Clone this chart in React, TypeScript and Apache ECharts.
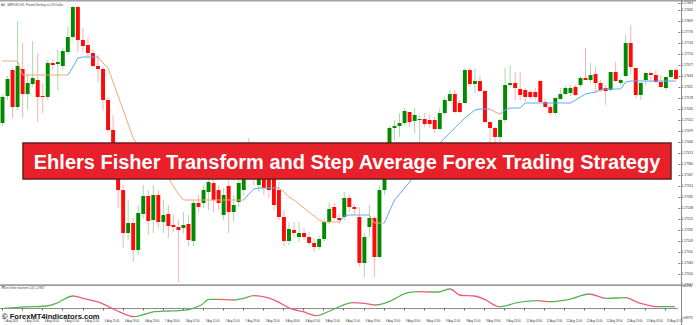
import { useEffect, useRef } from "react";
import * as echarts from "echarts";

// x-axis tick labels (one every 4 hourly candles)
const TICK_LABELS = [
  "5 Aug 2024", "5 Aug 23:00", "6 Aug 03:00", "6 Aug 07:00", "6 Aug 11:00", "6 Aug 15:00",
  "6 Aug 19:00", "6 Aug 23:00", "7 Aug 03:00", "7 Aug 07:00", "7 Aug 11:00", "7 Aug 15:00",
  "7 Aug 19:00", "7 Aug 23:00", "8 Aug 03:00", "8 Aug 07:00", "8 Aug 11:00", "8 Aug 15:00",
  "8 Aug 19:00", "8 Aug 23:00", "9 Aug 03:00", "9 Aug 07:00", "9 Aug 11:00", "9 Aug 15:00",
  "9 Aug 19:00", "9 Aug 23:00", "12 Aug 03:00", "12 Aug 07:00", "12 Aug 11:00", "12 Aug 15:00",
  "12 Aug 19:00", "12 Aug 23:00", "13 Aug 03:00", "13 Aug 07:00",
];

// [open, close, low, high]
const CANDLES: number[][] = [
  [1.27503, 1.27581, 1.27494, 1.27587], [1.27584, 1.27635, 1.27572, 1.27644], [1.27662, 1.27551, 1.27518, 1.27668],
  [1.27551, 1.27674, 1.27542, 1.27809], [1.27665, 1.2759, 1.27518, 1.27743], [1.2759, 1.27623, 1.27542, 1.2765],
  [1.2762, 1.27638, 1.27611, 1.27749], [1.27632, 1.27581, 1.27506, 1.27713], [1.27584, 1.27581, 1.27533, 1.27623],
  [1.27581, 1.27683, 1.27572, 1.27692], [1.27683, 1.27677, 1.27662, 1.27695], [1.2768, 1.27686, 1.27602, 1.27722],
  [1.27674, 1.27719, 1.27662, 1.27728], [1.27716, 1.27761, 1.27707, 1.27791], [1.27761, 1.27851, 1.27758, 1.27854],
  [1.27851, 1.27752, 1.27716, 1.27854], [1.27752, 1.27734, 1.27716, 1.27788], [1.27737, 1.27713, 1.27701, 1.27758],
  [1.27713, 1.27674, 1.27671, 1.27722], [1.27674, 1.27665, 1.27626, 1.27707], [1.27665, 1.27572, 1.27542, 1.27671],
  [1.27572, 1.27482, 1.27476, 1.27581], [1.27482, 1.27377, 1.27362, 1.27527], [1.27377, 1.27302, 1.27248, 1.27392],
  [1.27302, 1.27173, 1.27128, 1.27317], [1.27173, 1.27203, 1.27152, 1.27272], [1.27203, 1.27122, 1.27086, 1.27218],
  [1.27122, 1.27233, 1.27107, 1.27257], [1.2723, 1.27284, 1.27218, 1.27317], [1.27284, 1.27209, 1.27167, 1.27302],
  [1.27212, 1.27287, 1.27173, 1.27317], [1.27287, 1.27206, 1.27188, 1.27302], [1.27206, 1.27227, 1.27173, 1.27272],
  [1.2723, 1.27194, 1.27158, 1.27257], [1.27197, 1.27191, 1.27176, 1.27227], [1.27191, 1.27182, 1.27026, 1.27212],
  [1.27188, 1.27197, 1.27173, 1.27236], [1.272, 1.27152, 1.27134, 1.27227], [1.27149, 1.27263, 1.27134, 1.27272],
  [1.27263, 1.27251, 1.27236, 1.27287], [1.27263, 1.27302, 1.27248, 1.27317], [1.27296, 1.27326, 1.27242, 1.27347],
  [1.27323, 1.27272, 1.27236, 1.27338], [1.27302, 1.27263, 1.27242, 1.27317], [1.27227, 1.27287, 1.27212, 1.27308],
  [1.27314, 1.27236, 1.27173, 1.27332], [1.27236, 1.27257, 1.27206, 1.27287], [1.27266, 1.27323, 1.27251, 1.27347],
  [1.27302, 1.27356, 1.27287, 1.27422], [1.27347, 1.27392, 1.27332, 1.27458], [1.27392, 1.27347, 1.27317, 1.27422],
  [1.27317, 1.27362, 1.27296, 1.27392], [1.27362, 1.27308, 1.27287, 1.27386], [1.27356, 1.27302, 1.27278, 1.27392],
  [1.27338, 1.27257, 1.27242, 1.27362], [1.27302, 1.27221, 1.27212, 1.27326], [1.27221, 1.27149, 1.27134, 1.27242],
  [1.27149, 1.27185, 1.27137, 1.27206], [1.27182, 1.27173, 1.27158, 1.27206], [1.27161, 1.27173, 1.27146, 1.27206],
  [1.27173, 1.27161, 1.27152, 1.27188], [1.27161, 1.27143, 1.27134, 1.27176], [1.27143, 1.27131, 1.27116, 1.27158],
  [1.27131, 1.27155, 1.27122, 1.27164], [1.27155, 1.27206, 1.27146, 1.27218], [1.27206, 1.27245, 1.272, 1.27263],
  [1.27251, 1.27218, 1.27212, 1.27263], [1.27218, 1.27212, 1.272, 1.2723], [1.27221, 1.27278, 1.27212, 1.27296],
  [1.27278, 1.27251, 1.27236, 1.27287], [1.27251, 1.27245, 1.27227, 1.2726], [1.27221, 1.27083, 1.27071, 1.27251],
  [1.27083, 1.27161, 1.27041, 1.27173], [1.27191, 1.27218, 1.27161, 1.27257], [1.27218, 1.27101, 1.27041, 1.27224],
  [1.27101, 1.27302, 1.27098, 1.27317], [1.27302, 1.27377, 1.27287, 1.27392], [1.27377, 1.27488, 1.27368, 1.27494],
  [1.27488, 1.27494, 1.27452, 1.27512], [1.27494, 1.27503, 1.27461, 1.27533], [1.27503, 1.27539, 1.27497, 1.27548],
  [1.27536, 1.27506, 1.27491, 1.27536], [1.27509, 1.27527, 1.27473, 1.27548], [1.27512, 1.27515, 1.27443, 1.27527],
  [1.27515, 1.275, 1.27491, 1.27533], [1.27512, 1.275, 1.27488, 1.27527], [1.27512, 1.27485, 1.27473, 1.27521],
  [1.27485, 1.27533, 1.27482, 1.27548], [1.27533, 1.27572, 1.27527, 1.27581], [1.27569, 1.2759, 1.27566, 1.27602],
  [1.2759, 1.27536, 1.27533, 1.27602], [1.27563, 1.27536, 1.27533, 1.27572], [1.27563, 1.27662, 1.27563, 1.27668],
  [1.27662, 1.2762, 1.27611, 1.27668], [1.2762, 1.27629, 1.27593, 1.27668], [1.27629, 1.27599, 1.27596, 1.27647],
  [1.27599, 1.27506, 1.27503, 1.27602], [1.27506, 1.27488, 1.27443, 1.27506], [1.27488, 1.27461, 1.27443, 1.27491],
  [1.27461, 1.27512, 1.27443, 1.27518], [1.27512, 1.27617, 1.27503, 1.27668], [1.27617, 1.27623, 1.27611, 1.27677],
  [1.27623, 1.27608, 1.27572, 1.27656], [1.27605, 1.27587, 1.27572, 1.27656], [1.27602, 1.27581, 1.27566, 1.27608],
  [1.27596, 1.27581, 1.27575, 1.27602], [1.27596, 1.27581, 1.27572, 1.27608], [1.27629, 1.27566, 1.27566, 1.27632],
  [1.27566, 1.27551, 1.27548, 1.27575], [1.27551, 1.27533, 1.27527, 1.27557], [1.27533, 1.27578, 1.27527, 1.27581],
  [1.27575, 1.2759, 1.27572, 1.27608], [1.2759, 1.27608, 1.27587, 1.27614], [1.27593, 1.27608, 1.27584, 1.27617],
  [1.27611, 1.27587, 1.27584, 1.27617], [1.27617, 1.27638, 1.27611, 1.27644], [1.27638, 1.27632, 1.27632, 1.27728],
  [1.27632, 1.27647, 1.27623, 1.27683], [1.2765, 1.27623, 1.27593, 1.27671], [1.27623, 1.27602, 1.27596, 1.27632],
  [1.27608, 1.27599, 1.27557, 1.27617], [1.27602, 1.27656, 1.27599, 1.27656], [1.27656, 1.27629, 1.27626, 1.27686],
  [1.27623, 1.27632, 1.27617, 1.27638], [1.27644, 1.27743, 1.27641, 1.27767], [1.27743, 1.27671, 1.27647, 1.27797],
  [1.27668, 1.27587, 1.27578, 1.27668], [1.27587, 1.27623, 1.27572, 1.27626], [1.27632, 1.27653, 1.27617, 1.27656],
  [1.27653, 1.27647, 1.27623, 1.27656], [1.27647, 1.27626, 1.27626, 1.27662], [1.27626, 1.27611, 1.27608, 1.27647],
  [1.27608, 1.27641, 1.27602, 1.27641], [1.27641, 1.27662, 1.27638, 1.27662], [1.27662, 1.27635, 1.27632, 1.27668],
];

// Step average line value per candle
const STEP_AVG = [
  1.27689, 1.27689, 1.27689, 1.27689,
  1.27647, 1.27647, 1.27647, 1.27647, 1.27647, 1.27647, 1.27647, 1.27647, 1.27647, 1.27647,
  1.27671, 1.27698, 1.27701, 1.27701, 1.27701, 1.27701,
  1.27683, 1.27668, 1.27626, 1.27584, 1.27542, 1.275, 1.27458, 1.27434, 1.27416, 1.27398,
  1.27383, 1.27371, 1.27362, 1.27338, 1.27314, 1.2729,
  1.27272, 1.27272, 1.27272, 1.27272, 1.27272, 1.27272, 1.27272, 1.27272, 1.27272, 1.27272,
  1.27272, 1.27272, 1.27272,
  1.2729, 1.27305, 1.27308, 1.27308, 1.27308, 1.27308, 1.27308,
  1.27296, 1.27281, 1.27272, 1.2726, 1.27248, 1.27236, 1.27224, 1.27212,
  1.27206, 1.27206, 1.27206, 1.27206,
  1.27224, 1.27227, 1.27227, 1.27227, 1.27227, 1.27227,
  1.27203, 1.27203, 1.27203,
  1.27239, 1.27272, 1.2729, 1.27308, 1.27326, 1.27347, 1.27368, 1.27389, 1.2741, 1.27428,
  1.27443, 1.27458, 1.27473, 1.27488, 1.27503, 1.27518, 1.2753, 1.27542,
  1.27545, 1.27545, 1.27545,
  1.27536, 1.2753, 1.27542,
  1.27548, 1.27548, 1.27548,
  1.27563, 1.27563, 1.27563, 1.27563, 1.27563, 1.27563, 1.27563, 1.27563, 1.27563, 1.27563,
  1.27572, 1.27581, 1.2759, 1.27593, 1.27596, 1.27602,
  1.27605, 1.27605, 1.27605, 1.27605,
  1.27626,
  1.27629, 1.27629, 1.27629, 1.27629, 1.27629, 1.27629, 1.27629, 1.27629, 1.27629, 1.27629,
];

// colour runs of the step average: o = falling (orange), b = rising (blue)
const STEP_RUNS: [number, string][] = [
  [14, "o"], [6, "b"], [29, "o"], [7, "b"], [12, "o"], [6, "b"], [3, "o"], [21, "b"], [2, "o"], [35, "b"],
];

// Ehlers Fisher transform: [candle position, value]
const FISHER: number[][] = [
  [0.3, 0.01], [2.85, 0.082], [5.6, 0.125], [8.75, 0.175], [10.7, 0.369], [14.06, 0.894], [16.0, 0.729],
  [19.4, 0.412], [22.5, -0.113], [26.3, -0.594], [28.4, -0.4], [30.4, -0.235], [33.1, -0.185], [35.1, -0.163],
  [37.3, -0.062], [39.6, 0.247], [41.2, 0.657], [43.0, 0.657], [46.1, 0.606], [48.1, 0.729], [50.0, 0.916],
  [52.8, 0.772], [54.8, 0.484], [57.3, 0.01], [59.9, -0.235], [62.6, -0.522], [65.2, -0.185], [67.4, 0.175],
  [69.7, 0.412], [72.1, 0.369], [74.4, 0.247], [77.0, 0.484], [80.3, 1.088], [82.9, 1.203], [85.4, 1.182],
  [86.8, 1.182], [89.2, 1.397], [91.1, 0.966], [94.1, 0.894], [96.1, 0.657], [99.0, 0.125], [102.6, 0.412],
  [106.5, 0.556], [109.0, 0.484], [113.0, 0.657], [116.9, 1.038], [120.3, 0.729], [124.2, 0.772],
  [126.7, 0.412], [130.7, 0.125], [134.0, 0.125],
];

const PRICE_MIN = 1.27017;
const PRICE_MAX = 1.27863;
const PRICE_STEP = 0.00033;
const FISHER_MIN = -0.68791;
const FISHER_MAX = 1.612905;
const FISHER_STEP = 2.30081;

const UP = "#008a00";
const DOWN = "#ff0a0a";
const WICK_UP = "#a9d9a9";
const WICK_DOWN = "#ffb0b0";
const ORANGE = "#f5a673";
const BLUE = "#5aa8f5";
const F_UP = "#58b14f";
const F_DOWN = "#ee5a78";
const FONT = "Liberation Sans";

export default function App() {
  const ref = useRef<HTMLDivElement>(null);

  useEffect(() => {
    if (!ref.current) return;
    const chart = echarts.init(ref.current, undefined, { renderer: "svg" });
    const N = CANDLES.length;
    const cats = CANDLES.map((_, i) => String(i));

    const col: string[] = [];
    STEP_RUNS.forEach(([n, c]) => {
      for (let k = 0; k < n; k++) col.push(c);
    });
    const pick = (c: string) =>
      STEP_AVG.map((v, i) => ((i >= 1 && col[i] === c) || (i + 1 < N && col[i + 1] === c) ? v : null));

    const pieces = FISHER.slice(0, -1).map((p, k) => {
      const q = FISHER[k + 1];
      const piece: any = { gte: p[0], color: q[1] >= p[1] ? F_UP : F_DOWN };
      if (k < FISHER.length - 2) piece.lt = q[0];
      else piece.lte = q[0];
      return piece;
    });

    const smallText = (text: string, x: number, y: number, size: number, fill = "#333") => ({
      type: "text",
      x,
      y,
      z: 50,
      silent: true,
      style: {
        text,
        fontSize: size,
        fontFamily: FONT,
        fill,
        textAlign: "left",
        align: "left",
        textVerticalAlign: "middle",
        verticalAlign: "middle",
      },
    });

    chart.setOption({
      animation: false,
      backgroundColor: "#ffffff",
      grid: [
        { left: -4, right: 15, top: 3, height: 282 },
        { left: -4, right: 15, top: 286, height: 32 },
      ],
      xAxis: [
        { type: "category", gridIndex: 0, data: cats, boundaryGap: true, show: false },
        {
          type: "category",
          gridIndex: 1,
          data: cats,
          boundaryGap: true,
          position: "bottom",
          axisLine: { show: true, lineStyle: { color: "#8c8c8c", width: 1 } },
          axisTick: { show: true, interval: 3, alignWithLabel: true, length: 2, lineStyle: { color: "#666" } },
          axisLabel: {
            interval: 3,
            formatter: (v: string) => TICK_LABELS[Number(v) / 4] ?? "",
            fontSize: 2.7,
            fontFamily: FONT,
            color: "#333",
            align: "left",
            margin: 2,
            padding: [0, 0, 0, 2],
          },
          splitLine: { show: false },
        },
        { type: "value", gridIndex: 1, min: -0.5, max: N - 0.5, show: false },
      ],
      yAxis: [
        {
          type: "value",
          gridIndex: 0,
          position: "right",
          min: PRICE_MIN,
          max: PRICE_MAX,
          interval: PRICE_STEP,
          axisLine: { show: false },
          axisTick: { show: true, length: 2, lineStyle: { color: "#777" } },
          axisLabel: { fontSize: 3.2, fontFamily: FONT, color: "#333", margin: 3, formatter: (v: number) => v.toFixed(5) },
          splitLine: { show: false },
        },
        {
          type: "value",
          gridIndex: 1,
          position: "right",
          min: FISHER_MIN,
          max: FISHER_MAX,
          interval: FISHER_STEP,
          axisLine: { show: false },
          axisTick: { show: true, length: 2, lineStyle: { color: "#777" } },
          axisLabel: { fontSize: 3.2, fontFamily: FONT, color: "#333", margin: 3, formatter: (v: number) => v.toFixed(5) },
          splitLine: { show: false },
        },
      ],
      visualMap: [
        { type: "piecewise", show: false, seriesIndex: 3, dimension: 0, pieces, outOfRange: { color: F_UP } },
      ],
      series: [
        {
          type: "custom",
          xAxisIndex: 0,
          yAxisIndex: 0,
          z: 2,
          silent: true,
          data: CANDLES.map((d, i) => [i, d[0], d[1], d[2], d[3]]),
          encode: { x: 0, y: [1, 2, 3, 4] },
          renderItem: (_params: any, api: any) => {
            const i = api.value(0);
            const o = api.value(1);
            const c = api.value(2);
            const lo = api.value(3);
            const hi = api.value(4);
            const pO = api.coord([i, o]);
            const pC = api.coord([i, c]);
            const pL = api.coord([i, lo]);
            const pH = api.coord([i, hi]);
            const w = api.size([1, 0])[0] * 0.78;
            const up = c >= o;
            const top = Math.min(pO[1], pC[1]);
            const h = Math.max(Math.abs(pO[1] - pC[1]), 1);
            return {
              type: "group",
              children: [
                {
                  type: "line",
                  shape: { x1: pL[0], y1: pL[1], x2: pH[0], y2: pH[1] },
                  style: { stroke: up ? WICK_UP : WICK_DOWN, lineWidth: 1 },
                },
                {
                  type: "rect",
                  shape: { x: pO[0] - w / 2, y: top, width: w, height: h },
                  style: { fill: up ? UP : DOWN },
                },
              ],
            };
          },
        },
        {
          type: "line",
          xAxisIndex: 0,
          yAxisIndex: 0,
          data: pick("o"),
          symbol: "none",
          connectNulls: false,
          lineStyle: { color: ORANGE, width: 1 },
          z: 3,
          silent: true,
        },
        {
          type: "line",
          xAxisIndex: 0,
          yAxisIndex: 0,
          data: pick("b"),
          symbol: "none",
          connectNulls: false,
          lineStyle: { color: BLUE, width: 1 },
          z: 3,
          silent: true,
        },
        {
          type: "line",
          xAxisIndex: 2,
          yAxisIndex: 1,
          data: FISHER,
          smooth: 0.3,
          symbol: "none",
          lineStyle: { width: 1.3 },
          z: 3,
          silent: true,
        },
      ],
      graphic: [
        { type: "rect", z: 40, silent: true, shape: { x: 0, y: 0, width: 696, height: 1.6 }, style: { fill: "#a3a3a3" } },
        { type: "rect", z: 40, silent: true, shape: { x: 0, y: 284.3, width: 681, height: 1.6 }, style: { fill: "#9c9c9c" } },
        { type: "line", z: 40, silent: true, shape: { x1: 681.5, y1: 0, x2: 681.5, y2: 325 }, style: { stroke: "#8a8a8a", lineWidth: 1 } },
        { type: "rect", z: 40, silent: true, shape: { x: 1, y: 3.5, width: 2, height: 2.5 }, style: { fill: "#f08a8a" } },
        { type: "rect", z: 40, silent: true, shape: { x: 3, y: 3.5, width: 2, height: 2.5 }, style: { fill: "#8ab4f0" } },
        smallText("GBPUSD,H1: Pound Sterling vs US Dollar", 7, 5, 3, "#444"),
        smallText("Ehlers fisher transform (14) 1.07867", 1.5, 289, 2.7, "#444"),
        {
          type: "text",
          x: 2,
          y: 316,
          z: 60,
          silent: true,
          style: {
            text: "© ForexMT4Indicators.com",
            fontSize: 7.6,
            fontWeight: "bold",
            fontFamily: FONT,
            fill: "#151515",
            textAlign: "left",
            align: "left",
            textVerticalAlign: "middle",
            verticalAlign: "middle",
          },
        },
        {
          type: "rect",
          z: 100,
          silent: true,
          shape: { x: 23, y: 143, width: 648, height: 36 },
          style: { fill: "#e8202a", stroke: "#6e1c1c", lineWidth: 1.5 },
        },
        {
          type: "text",
          z: 101,
          silent: true,
          x: 347,
          y: 162,
          style: {
            text: "Ehlers Fisher Transform and Step Average Forex Trading Strategy",
            fontSize: 20,
            fontWeight: "bold",
            fontFamily: FONT,
            fill: "#ffffff",
            textAlign: "center",
            align: "center",
            textVerticalAlign: "middle",
            verticalAlign: "middle",
          },
        },
      ],
    });
    return () => chart.dispose();
  }, []);

  return (
    <div
      ref={ref}
      style={{ position: "absolute", left: 0, top: 0, width: 696, height: 325, background: "#fff" }}
    />
  );
}
